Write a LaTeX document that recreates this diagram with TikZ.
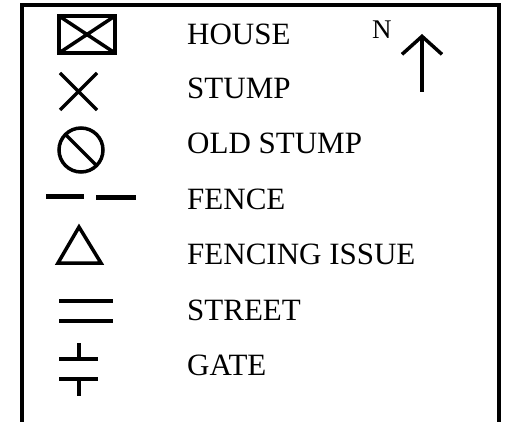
\documentclass[tikz,border=0pt]{standalone}
\usepackage{fontspec}
\setmainfont{Liberation Serif}
\usetikzlibrary{arrows.meta}

\begin{document}
\begin{tikzpicture}[
      x=1pt, y=-1pt,
      sym/.style={line width=3.5pt},
      lbl/.style={anchor=base west, inner sep=0pt, font=\fontsize{31}{36}\selectfont}
    ]
    \useasboundingbox (0,0) rectangle (508,422);
    % frame, open at the bottom
    \draw[line width=3.5pt] (22,424) -- (22,5) -- (499,5) -- (499,424);
    % symbols
    \draw[line width=4.5pt] (59,16) rectangle (115,53);
    \draw[sym] (59,16) -- (115,53) (59,53) -- (115,16);
    \draw[sym] (60,73) -- (97,110) (60,110) -- (97,73);
    \draw[sym] (81,150) circle (22) (66,135) -- (96,165);
    \draw[line width=5pt] (46,196.5) -- (84,196.5) (96,197.5) -- (136,197.5);
    \draw[sym, line join=miter] (79,227) -- (58,263) -- (101,263) -- cycle;
    \draw[sym] (59,301) -- (113,301) (59,321) -- (113,321);
    \draw[sym] (79,343) -- (79,359) (59,359) -- (98,359)
                (59,379) -- (98,379) (79,379) -- (79,396);
    % labels
    \node[lbl] (house)  at (187,45)  {HOUSE};
    \node[lbl] (stump)  at (187,99)  {STUMP};
    \node[lbl] (old)    at (187,154) {OLD STUMP};
    \node[lbl] (fence)  at (187,209) {FENCE};
    \node[lbl] (issue)  at (187,264) {FENCING ISSUE};
    \node[lbl] (street) at (187,320) {STREET};
    \node[lbl] (gate)   at (187,375) {GATE};
    % north
    \node[anchor=base west, inner sep=0pt, font=\fontsize{27}{32}\selectfont] (north) at (372,39) {N};
    \coordinate (tail) at (422,92);
    \coordinate (head) at (422,34);
    \draw[line width=3.5pt, -{Straight Barb[length=18pt, width=40pt]}] (tail) -- (head);
  \end{tikzpicture}
\end{document}
